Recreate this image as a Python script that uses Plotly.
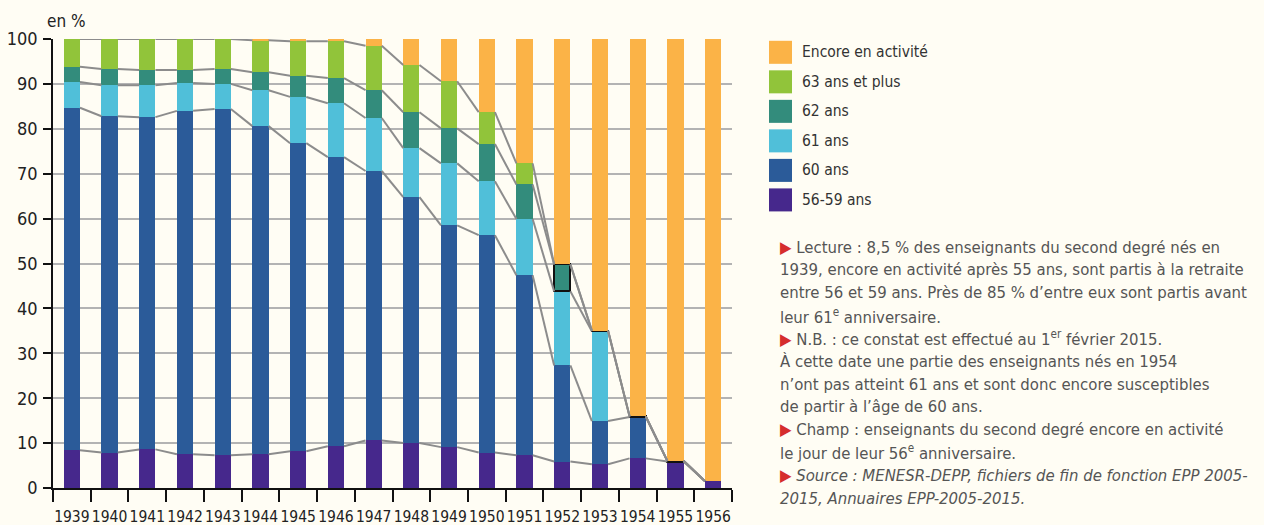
import plotly.graph_objects as go

years = [str(y) for y in range(1939, 1957)]

# values in % (stack order: bottom to top)
v_56_59 = [8.4, 7.9, 8.6, 7.5, 7.3, 7.5, 8.2, 9.3, 10.6, 10.0, 9.1, 7.9, 7.3, 5.9, 5.3, 6.6, 5.9, 1.5]
v_60 = [76.3, 74.9, 74.0, 76.5, 77.1, 73.1, 68.6, 64.4, 60.0, 54.8, 49.4, 48.4, 40.1, 21.4, 9.6, 9.2, 0.15, 0]
v_61 = [5.7, 6.9, 7.1, 6.2, 5.6, 8.0, 10.3, 12.0, 11.8, 10.9, 13.8, 12.0, 12.5, 16.5, 20.0, 0.15, 0, 0]
v_62 = [3.4, 3.6, 3.4, 2.9, 3.3, 4.0, 4.7, 5.6, 6.2, 8.0, 7.8, 8.3, 7.7, 6.0, 0.15, 0, 0, 0]
v_63p = [6.2, 6.7, 6.9, 6.9, 6.7, 7.1, 7.7, 8.2, 9.9, 10.5, 10.5, 7.1, 4.7, 0, 0, 0, 0, 0]
v_encore = [0, 0, 0, 0, 0, 0.1, 0.5, 0.5, 1.5, 5.8, 9.4, 16.3, 27.7, 50.2, 65.0, 84.1, 94.0, 98.5]

# segments outlined in black (incomplete observation)
outlined_62 = ["1952", "1953"]
outlined_61 = ["1954"]
outlined_60 = ["1955"]

series = [
    ("56-59 ans", v_56_59, "#46288c", []),
    ("60 ans", v_60, "#2b5b99", outlined_60),
    ("61 ans", v_61, "#50bfd9", outlined_61),
    ("62 ans", v_62, "#338c7c", outlined_62),
    ("63 ans et plus", v_63p, "#91c43a", []),
    ("Encore en activité", v_encore, "#fbb347", []),
]

FONT = "DejaVu Sans Condensed, DejaVu Sans, sans-serif"
BG = "#fffdf4"
W, H = 1264, 525
L, R, T, B = 53, 732, 39, 487.7
BAR_W = 0.43

fig = go.Figure()
for name, vals, col, outl in series:
    lw = [2 if y in outl else 0 for y in years]
    fig.add_trace(go.Bar(
        x=years, y=vals, name=name, marker_color=col,
        marker_line_color="#111111", marker_line_width=lw,
        width=BAR_W, showlegend=False,
    ))

# connecting lines between tops of cumulative segments
cum = [0.0] * len(years)
for name, vals, col, outl in series[:-1]:
    cum = [c + v for c, v in zip(cum, vals)]
    xs, ys = [], []
    for i in range(len(years) - 1):
        xs += [i + BAR_W / 2, i + 1 - BAR_W / 2, None]
        ys += [cum[i], cum[i + 1], None]
    fig.add_trace(go.Scatter(x=xs, y=ys, mode="lines", xaxis="x2",
                             line=dict(color="#8c8c8c", width=2),
                             showlegend=False, hoverinfo="skip"))

def px_x(p):
    return (p - L) / (R - L)

def px_y(p):
    return (B - p) / (B - T)

shapes = []
annotations = []
legend_rows = list(reversed(series))
for k, (name, vals, col, outl) in enumerate(legend_rows):
    cy = 52.3 + k * 29.5
    shapes.append(dict(type="rect", xref="paper", yref="paper",
                       x0=px_x(769), x1=px_x(792),
                       y0=px_y(cy + 11.5), y1=px_y(cy - 11.5),
                       fillcolor=col, line=dict(width=0)))
    annotations.append(dict(text=name, xref="paper", yref="paper",
                            x=px_x(800), y=px_y(cy), xanchor="left", yanchor="middle",
                            showarrow=False, font=dict(family=FONT, size=15.5, color="#333333")))

tri = '<span style="color:#d62d2d">▶</span>'
notes = [
    tri + " Lecture : 8,5 % des enseignants du second degré nés en",
    "1939, encore en activité après 55 ans, sont partis à la retraite",
    "entre 56 et 59 ans. Près de 85 % d’entre eux sont partis avant",
    "leur 61<sup>e</sup> anniversaire.",
    tri + " N.B. : ce constat est effectué au 1<sup>er</sup> février 2015.",
    "À cette date une partie des enseignants nés en 1954",
    "n’ont pas atteint 61 ans et sont donc encore susceptibles",
    "de partir à l’âge de 60 ans.",
    tri + " Champ : enseignants du second degré encore en activité",
    "le jour de leur 56<sup>e</sup> anniversaire.",
    tri + " <i>Source : MENESR-DEPP, fichiers de fin de fonction EPP 2005-</i>",
    "<i>2015, Annuaires EPP-2005-2015.</i>",
]
for k, line in enumerate(notes):
    cy = 247 + k * 22.8
    annotations.append(dict(text=line, xref="paper", yref="paper",
                            x=px_x(778), y=px_y(cy), xanchor="left", yanchor="middle",
                            showarrow=False, font=dict(family=FONT, size=16.6, color="#555555")))

annotations.append(dict(text="en %", xref="paper", yref="paper",
                        x=px_x(45), y=px_y(21), xanchor="left", yanchor="middle",
                        showarrow=False, font=dict(family=FONT, size=17, color="#222222")))

fig.update_layout(
    width=W, height=H,
    margin=dict(l=L, r=W - R, t=T, b=H - B, pad=0),
    barmode="stack",
    paper_bgcolor=BG, plot_bgcolor=BG,
    font=dict(family=FONT, color="#222222"),
    shapes=shapes, annotations=annotations,
    xaxis=dict(type="category", tickson="boundaries", ticks="outside", ticklen=12,
               tickwidth=1.5, tickcolor="#111111", showline=True, linecolor="#111111",
               linewidth=1.5, showgrid=False, tickfont=dict(size=15.5, color="#222222"),
               tickangle=0, automargin=False, ticklabelstandoff=14,
               range=[-0.5, len(years) - 0.5]),
    xaxis2=dict(overlaying="x", range=[-0.5, len(years) - 0.5], visible=False),
    yaxis=dict(range=[0, 100], dtick=10, ticks="outside", ticklen=8, tickwidth=1.5,
               tickcolor="#111111", showline=True, linecolor="#111111", linewidth=1.5,
               showgrid=True, gridcolor="#b3b3b3", gridwidth=1.5, zeroline=False,
               automargin=False,
               tickfont=dict(size=18, color="#222222"), ticklabelstandoff=2),
)

fig.write_html("out.html", config={"displayModeBar": False},
               post_script="document.body.style.margin='0';")
